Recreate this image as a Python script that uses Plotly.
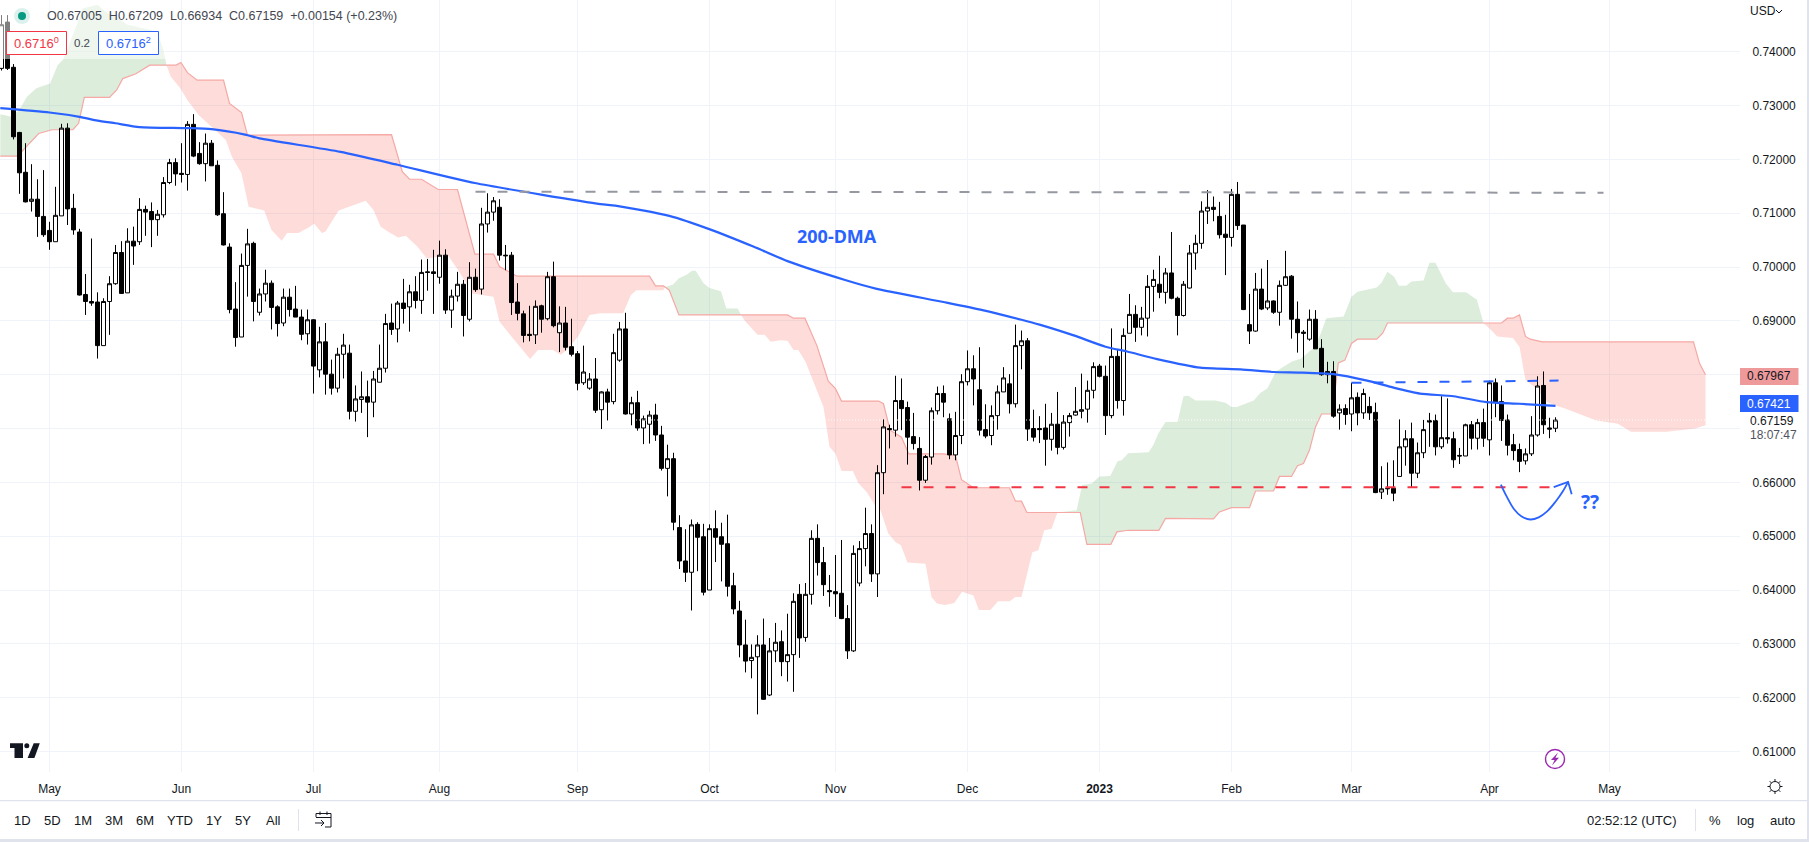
import math
import pandas as pd
import plotly.graph_objects as go

# ---------- data ----------
open_ = [
0.7369,0.7455,0.7371,0.7250,0.7176,0.7122,0.7126,0.7094,0.7068,0.7047,
0.7095,0.7258,0.7109,0.7065,0.6949,0.6936,0.6935,0.6854,0.6936,0.6969,
0.7027,0.6952,0.7048,0.7047,0.7107,0.7103,0.7088,0.7097,0.7157,0.7194,
0.7174,0.7172,0.7265,0.7211,0.7192,0.7230,0.7189,0.7099,0.7037,0.6922,
0.6870,0.7003,0.7044,0.6916,0.6950,0.6970,0.6926,0.6896,0.6944,0.6922,
0.6907,0.6876,0.6902,0.6809,0.6861,0.6801,0.6775,0.6838,0.6840,0.6732,
0.6754,0.6759,0.6749,0.6786,0.6812,0.6896,0.6885,0.6933,0.6926,0.6954,
0.6938,0.6991,0.6991,0.6981,0.7022,0.6920,0.6946,0.6968,0.6903,0.6981,
0.6959,0.7080,0.7102,0.7111,0.7022,0.7022,0.6935,0.6913,0.6875,0.6874,
0.6928,0.6904,0.6982,0.6878,0.6896,0.6852,0.6839,0.6785,0.6775,0.6792,
0.6735,0.6768,0.6750,0.6827,0.6885,0.6727,0.6748,0.6701,0.6708,0.6725,
0.6688,0.6626,0.6644,0.6516,0.6454,0.6433,0.6522,0.6499,0.6400,0.6514,
0.6499,0.6486,0.6408,0.6361,0.6298,0.6269,0.6276,0.6298,0.6205,0.6287,
0.6304,0.6267,0.6280,0.6392,0.6312,0.6392,0.6496,0.6451,0.6399,0.6397,
0.6394,0.6347,0.6287,0.6413,0.6477,0.6505,0.6430,0.6618,0.6700,0.6697,
0.6752,0.6739,0.6685,0.6663,0.6604,0.6647,0.6733,0.6765,0.6718,0.6651,
0.6687,0.6787,0.6811,0.6772,0.6698,0.6687,0.6724,0.6768,0.6783,0.6746,
0.6854,0.6863,0.6700,0.6700,0.6701,0.6680,0.6708,0.6665,0.6711,0.6725,
0.6732,0.6736,0.6771,0.6816,0.6797,0.6724,0.6834,0.6752,0.6877,0.6912,
0.6888,0.6905,0.6964,0.6968,0.6953,0.6989,0.6942,0.6910,0.6961,0.7026,
0.7044,0.7104,0.7111,0.7094,0.7061,0.7055,0.7135,0.7078,0.6893,0.6881,
0.6959,0.6924,0.6937,0.6916,0.6966,0.6983,0.6903,0.6879,0.6866,0.6903,
0.6849,0.6800,0.6806,0.6729,0.6737,0.6727,0.6758,0.6729,0.6741,0.6730,
0.6582,0.6588,0.6589,0.6611,0.6666,0.6681,0.6617,0.6655,0.6715,0.6715,
0.6666,0.6683,0.6681,0.6650,0.6649,0.6707,0.6682,0.6711,0.6679,0.6785,
0.6750,0.6716,0.6670,0.6661,0.6640,0.6653,0.6688,0.6780,0.6701,0.67005,
]
high = [
0.7468,0.7468,0.7377,0.7251,0.7230,0.7191,0.7163,0.7180,0.7084,0.7149,
0.7266,0.7267,0.7136,0.7071,0.6987,0.7053,0.6953,0.6942,0.6983,0.7041,
0.7048,0.7072,0.7075,0.7128,0.7114,0.7120,0.7106,0.7167,0.7201,0.7202,
0.7230,0.7271,0.7284,0.7232,0.7248,0.7236,0.7198,0.7139,0.7044,0.6972,
0.7025,0.7071,0.7047,0.6960,0.6995,0.6975,0.6929,0.6960,0.6960,0.6965,
0.6921,0.6921,0.6903,0.6889,0.6896,0.6828,0.6850,0.6876,0.6856,0.6780,
0.6806,0.6789,0.6807,0.6856,0.6913,0.6932,0.6937,0.6978,0.6967,0.6983,
0.7014,0.7015,0.7032,0.7049,0.7033,0.6958,0.6991,0.6976,0.7009,0.6997,
0.7110,0.7137,0.7130,0.7126,0.7041,0.7028,0.6970,0.6919,0.6928,0.6938,
0.6930,0.6991,0.7010,0.6927,0.6926,0.6904,0.6844,0.6854,0.6803,0.6831,
0.6769,0.6774,0.6876,0.6898,0.6915,0.6759,0.6770,0.6724,0.6733,0.6746,
0.6705,0.6670,0.6655,0.6539,0.6513,0.6531,0.6526,0.6523,0.6522,0.6548,
0.6525,0.6540,0.6432,0.6380,0.6345,0.6299,0.6316,0.6347,0.6311,0.6339,
0.6325,0.6356,0.6394,0.6411,0.6413,0.6511,0.6522,0.6480,0.6428,0.6465,
0.6493,0.6372,0.6483,0.6491,0.6553,0.6522,0.6632,0.6717,0.6707,0.6798,
0.6793,0.6750,0.6729,0.6684,0.6651,0.6739,0.6778,0.6780,0.6728,0.6731,
0.6801,0.6845,0.6836,0.6851,0.6745,0.6743,0.6780,0.6814,0.6801,0.6893,
0.6882,0.6868,0.6735,0.6723,0.6746,0.6729,0.6768,0.6725,0.6729,0.6777,
0.6802,0.6789,0.6823,0.6820,0.6817,0.6886,0.6846,0.6886,0.6950,0.6929,
0.6926,0.6985,0.6995,0.7021,0.6998,0.7065,0.6945,0.6974,0.7041,0.7060,
0.7122,0.7143,0.7131,0.7121,0.7097,0.7145,0.7158,0.7078,0.6950,0.6989,
0.6997,0.7013,0.6938,0.6975,0.7030,0.6985,0.6936,0.6883,0.6921,0.6920,
0.6866,0.6824,0.6825,0.6745,0.6745,0.6785,0.6767,0.6774,0.6759,0.6748,
0.6630,0.6637,0.6641,0.6717,0.6697,0.6711,0.6674,0.6716,0.6729,0.6726,
0.6760,0.6756,0.6694,0.6664,0.6709,0.6714,0.6718,0.6737,0.6789,0.6793,
0.6780,0.6726,0.6690,0.6672,0.6663,0.6723,0.6797,0.6806,0.6720,0.67209,
]
low = [
0.7365,0.7366,0.7237,0.7136,0.7120,0.7103,0.7056,0.7056,0.7032,0.7047,
0.7095,0.7078,0.7060,0.6947,0.6911,0.6928,0.6830,0.6854,0.6874,0.6967,
0.6950,0.6952,0.7004,0.7041,0.7058,0.7037,0.7058,0.7092,0.7154,0.7151,
0.7157,0.7142,0.7204,0.7190,0.7159,0.7188,0.7095,0.7040,0.6914,0.6852,
0.6870,0.6945,0.6899,0.6910,0.6936,0.6884,0.6871,0.6890,0.6908,0.6907,
0.6864,0.6856,0.6765,0.6795,0.6763,0.6763,0.6767,0.6793,0.6717,0.6713,
0.6729,0.6684,0.6721,0.6786,0.6804,0.6874,0.6860,0.6895,0.6880,0.6923,
0.6913,0.6956,0.6913,0.6969,0.6913,0.6887,0.6936,0.6871,0.6899,0.6954,
0.6949,0.7064,0.7086,0.7012,0.6994,0.6911,0.6901,0.6860,0.6862,0.6857,
0.6878,0.6901,0.6888,0.6842,0.6845,0.6834,0.6771,0.6781,0.6772,0.6729,
0.6699,0.6715,0.6745,0.6824,0.6726,0.6706,0.6696,0.6671,0.6672,0.6677,
0.6622,0.6574,0.6511,0.6439,0.6415,0.6362,0.6435,0.6390,0.6400,0.6452,
0.6416,0.6388,0.6355,0.6275,0.6247,0.6236,0.6169,0.6196,0.6203,0.6266,
0.6240,0.6230,0.6211,0.6274,0.6304,0.6373,0.6427,0.6389,0.6369,0.6350,
0.6346,0.6272,0.6285,0.6407,0.6444,0.6415,0.6387,0.6578,0.6663,0.6685,
0.6697,0.6633,0.6661,0.6585,0.6599,0.6633,0.6726,0.6721,0.6643,0.6641,
0.6671,0.6780,0.6743,0.6687,0.6682,0.6669,0.6698,0.6768,0.6728,0.6739,
0.6810,0.6677,0.6676,0.6673,0.6631,0.6659,0.6652,0.6661,0.6685,0.6724,
0.6719,0.6711,0.6756,0.6795,0.6688,0.6719,0.6737,0.6724,0.6877,0.6861,
0.6873,0.6871,0.6917,0.6942,0.6932,0.6940,0.6873,0.6908,0.6960,0.6995,
0.7034,0.7080,0.7085,0.7053,0.6985,0.7038,0.7069,0.6920,0.6857,0.6880,
0.6920,0.6920,0.6913,0.6891,0.6965,0.6867,0.6841,0.6813,0.6863,0.6848,
0.6798,0.6784,0.6720,0.6698,0.6707,0.6695,0.6706,0.6718,0.6716,0.6580,
0.6569,0.6577,0.6565,0.6611,0.6631,0.6591,0.6608,0.6645,0.6666,0.6650,
0.6662,0.6672,0.6627,0.6634,0.6649,0.6661,0.6661,0.6666,0.6650,0.6721,
0.6677,0.6650,0.6641,0.6619,0.6633,0.6649,0.6685,0.6690,0.6682,0.66934,
]
close = [
0.7450,0.7369,0.7242,0.7175,0.7121,0.7126,0.7094,0.7060,0.7047,0.7096,
0.7258,0.7108,0.7069,0.6948,0.6936,0.6933,0.6854,0.6936,0.6969,0.7027,
0.6951,0.7048,0.7039,0.7107,0.7102,0.7088,0.7098,0.7157,0.7194,0.7173,
0.7172,0.7265,0.7206,0.7192,0.7230,0.7188,0.7097,0.7041,0.6921,0.6869,
0.7003,0.7043,0.6936,0.6950,0.6970,0.6925,0.6895,0.6944,0.6921,0.6907,
0.6875,0.6902,0.6816,0.6861,0.6801,0.6775,0.6838,0.6855,0.6732,0.6755,
0.6759,0.6749,0.6792,0.6812,0.6895,0.6884,0.6933,0.6923,0.6954,0.6938,
0.6990,0.6990,0.6988,0.7022,0.6920,0.6946,0.6968,0.6910,0.6981,0.6958,
0.7080,0.7102,0.7123,0.7022,0.7021,0.6934,0.6914,0.6873,0.6873,0.6927,
0.6903,0.6982,0.6891,0.6896,0.6851,0.6838,0.6784,0.6805,0.6792,0.6734,
0.6768,0.6749,0.6841,0.6885,0.6727,0.6748,0.6701,0.6718,0.6725,0.6688,
0.6626,0.6644,0.6526,0.6454,0.6433,0.6521,0.6498,0.6396,0.6514,0.6498,
0.6485,0.6407,0.6365,0.6298,0.6268,0.6275,0.6298,0.6197,0.6287,0.6303,
0.6267,0.6280,0.6379,0.6311,0.6392,0.6496,0.6451,0.6410,0.6397,0.6393,
0.6347,0.6287,0.6468,0.6477,0.6505,0.6430,0.6618,0.6703,0.6698,0.6752,
0.6737,0.6684,0.6672,0.6604,0.6648,0.6733,0.6765,0.6749,0.6651,0.6687,
0.6787,0.6811,0.6792,0.6697,0.6686,0.6724,0.6768,0.6794,0.6746,0.6854,
0.6863,0.6699,0.6684,0.6698,0.6680,0.6708,0.6665,0.6712,0.6724,0.6732,
0.6735,0.6771,0.6815,0.6797,0.6724,0.6834,0.6752,0.6873,0.6912,0.6888,
0.6905,0.6964,0.6977,0.6953,0.6989,0.6942,0.6910,0.6968,0.7026,0.7044,
0.7104,0.7111,0.7107,0.7060,0.7055,0.7135,0.7077,0.6921,0.6881,0.6959,
0.6922,0.6937,0.6916,0.6966,0.6982,0.6903,0.6878,0.6877,0.6903,0.6848,
0.6800,0.6806,0.6723,0.6736,0.6726,0.6757,0.6729,0.6765,0.6729,0.6581,
0.6588,0.6589,0.6580,0.6666,0.6681,0.6617,0.6655,0.6698,0.6712,0.6666,
0.6683,0.6681,0.6642,0.6649,0.6707,0.6682,0.6711,0.6682,0.6785,0.6749,
0.6715,0.6669,0.6659,0.6639,0.6653,0.6688,0.6779,0.6707,0.6699,0.67159,
]

# 200-day average: bar number (0 = 2 May 2022) and value
ma_bars = [-8.2,0,5,8,11,15,23,27,32.6,35,48.5,58,70.9,91.8,94.3,103.3,110.3,117.3,123,132.6,137.7,149,155.5,162,
           165,170.7,176,179.6,184.6,191.8,198.5,204,208.4,214,219.6,224,228.4,234,239.5,245,251]
ma_vals = [.7295,.7287,.7279,.7272,.7267,.7260,.7258,.7256,.7246,.7239,.7214,.7190,.7156,.7117,.7114,.7095,.7069,.7038,.7011,.6976,.6960,.6935,.6920,.6902,
           .6893,.6873,.6852,.6843,.6829,.6813,.6810,.6805,.6804,.6801,.6789,.6776,.6765,.6760,.6749,.6746,.6742]

# Ichimoku spans
span_a_bars = [-8.2,-6.3,-5,-3.8,-2.2,0.1,1.35,2.3,4.85,5.5,8,9.3,11,13,15,17,18.4,19,19.5,
 20.2,21.8,23,24.9,27.5,29.4,30.4,32,33.2,35.8,37,38.7,39.6,41.5,43.4,44.1,45.4,46,48.2,49.8,52.7,54,55.2,56.8,58.1,59.4,61.3,62.9,65.1,66.4,68.3,70.5,74,75,77.2,80.1,81.4,83.9,85.2,86.2,88.1,90,91.8,
 95.6,96.9,97.8,102.3,102.6,103.9,104.9,106.1,107.1,107.7,109,110,111.9,112.8,114.7,115.25,
 116,118,119.2,120.2,121.8,123,124,124.8,126,129,130,131,132,133.9,134.8,136.2,137.6,138.5,139.8,141,141.9,143,146,147,147.9,149.2,150.8,152.1,154,154.9,156.8,158.1,160,161,162,163.8,164.8,165.8,167,168,
 171.2,172.1,173.7,175,176.8,178,178.7,179.8,183.2,184,184.8,186,188,189,189.8,191,194.3,196,197,197.9,200.7,201.8,203,204.4,207,208.6,210.9,211.9,212.8,215.7,217,218,219.3,221.2,222,223,224.1,224.9,226.1,227,229,230,231,232.7,233.9,236.1,237.9,239,
 240,241.3,243.9,245,246,247.4,249.7,251,252.6,257.8,261.4,263.6,269.5,274.3,276]
span_a_vals = [.7284,.7279,.7292,.7316,.7332,.7341,.7375,.7386,.7459,.7480,.7487,.7474,.7465,.7450,.7445,.7440,.7422,.7403,.7375,
 .7354,.7332,.7310,.7282,.7255,.7236,.7205,.7174,.7112,.7105,.7069,.7049,.7063,.7063,.7075,.7081,.7063,.7066,.7105,.7111,.7123,.7106,.7075,.7063,.7055,.7058,.7038,.7016,.7019,.7022,.6991,.6951,.6945,.6899,.6868,.6829,.6846,.6846,.6837,.6846,.6871,.6911,.6914,
 .6914,.6948,.6957,.6957,.6963,.6967,.6979,.6985,.6993,.6993,.6970,.6961,.6955,.6923,.6923,.6911,
 .6899,.6874,.6874,.6861,.6864,.6863,.6846,.6846,.6824,.6740,.6666,.6653,.6621,.6621,.6599,.6582,.6557,.6548,.6505,.6489,.6483,.6451,.6449,.6387,.6375,.6372,.6376,.6397,.6390,.6363,.6363,.6379,.6379,.6387,.6387,.6470,.6474,.6511,.6514,.6544,
 .6548,.6595,.6598,.6611,.6612,.6639,.6641,.6654,.6656,.6670,.6691,.6712,.6712,.6760,.6761,.6752,.6752,.6748,.6740,.6740,.6752,.6766,.6775,.6806,.6824,.6830,.6852,.6877,.6905,.6908,.6945,.6954,.6957,.6962,.6971,.6991,.6982,.6965,.6965,.6973,.6975,.7008,.7008,.6970,.6953,.6953,.6939,.6896,
 .6886,.6871,.6868,.6852,.6790,.6778,.6749,.6743,.6737,.6715,.6709,.6694,.6694,.6700,.6706]
span_b_bars = [-8.2,-5.3,-4.4,-1.8,0.4,3.9,4.85,5.8,10,11.2,12.2,14.4,16.7,19.5,21.1,21.9,23,24.6,29,30,32,33,57,58.8,60,62,64.8,68,70.9,74,75,77.9,100,101,102.3,102.6,103.3,104.9,115.25,123,124,125.9,127.9,129.8,131,132,138.2,139,140.1,142,143.2,149,151,152,154,160,161,162,162.9,168,171.8,172.9,176.9,177.9,179.8,184.9,186,194,195,197,200,201,204,205,207,208,209,210,211,212,213.8,214.8,215.9,217,218,221.2,222.2,223,239,242,243,243.9,245,246,246.8,248.8,274,275,276]
span_b_vals = [.7206,.7206,.7217,.7248,.7255,.7255,.7267,.7315,.7315,.7329,.7350,.7359,.7375,.7375,.7375,.7380,.7361,.7347,.7347,.7304,.7287,.7245,.7246,.7177,.7163,.7163,.7144,.7144,.7024,.7024,.7001,.6983,.6983,.6965,.6965,.6963,.6957,.6911,.6911,.6911,.6905,.6905,.6854,.6788,.6774,.6751,.6751,.6746,.6697,.6684,.6653,.6653,.6650,.6605,.6590,.6590,.6565,.6565,.6544,.6544,.6544,.6485,.6485,.6508,.6511,.6511,.6533,.6532,.6545,.6553,.6553,.6584,.6584,.6611,.6611,.6631,.6635,.6660,.6703,.6727,.6727,.6822,.6827,.6858,.6866,.6866,.6877,.6896,.6896,.6896,.6905,.6905,.6911,.6871,.6866,.6861,.6861,.6821,.6800]
cloud_regions = [(-8.2,19.5,"g"),(19.5,102.6,"r"),(102.6,115.25,"g"),(115.25,168,"r"),(168,239,"g"),(239,276,"r")]

# drawn levels and sketch
top_level_bars, top_level_vals = [71,259], [.7140,.7138]
support_bars, support_vals = [142,250], [.6591,.6591]
resist_bars, resist_vals = [217,251.5], [.6785,.6789]
arc_bars = [241.9,242.9,244.1,245.3,246.8,248.2,249.6,251,252.2,253.1]
arc_vals = [.6596,.6573,.6550,.6537,.6531,.6535,.6546,.6564,.6583,.6601]
head_bars = [250.7,253.1,253.7]
head_vals = [.6591,.6601,.6578]

month_ticks = ["2022-05-02 12:00","2022-06-01 12:00","2022-07-01 12:00","2022-08-01 12:00","2022-09-01 12:00","2022-10-03 12:00",
               "2022-11-01 12:00","2022-12-01 12:00","2023-01-02 12:00","2023-02-01 12:00","2023-03-01 12:00","2023-04-03 12:00","2023-05-01 12:00"]
month_labels = ["May","Jun","Jul","Aug","Sep","Oct","Nov","Dec","<b>2023</b>","Feb","Mar","Apr","May"]
price_ticks = [.61,.62,.63,.64,.65,.66,.67,.68,.69,.70,.71,.72,.73,.74]
price_labels = ["0.61000","0.62000","0.63000","0.64000","0.65000","0.66000"," "," ","0.69000","0.70000","0.71000","0.72000","0.73000","0.74000"]
range_buttons = [("1D",22),("5D",52),("1M",83),("3M",114),("6M",145),("YTD",180),("1Y",214),("5Y",243.4),("All",273)]

# ---------- helpers ----------
W, H, PW, PH = 1809, 842, 1740, 772
FONT = "Liberation Sans"
TXT = "#131722"
BLUE, RED = "#2962ff", "#f23645"
all_days = pd.bdate_range("2022-04-01", "2023-07-14") + pd.Timedelta(hours=12)
first = list(all_days).index(pd.Timestamp("2022-05-02 12:00"))

def at(k):
    n = round(k)
    return (all_days[first + n] + pd.Timedelta(days=k - n)).strftime("%Y-%m-%d %H:%M:%S")

def ats(ks):
    return [at(k) for k in ks]

candle_x = ats(range(-8, -8 + len(close)))
fx = lambda x: x / PW
fy = lambda y: 1 - y / PH
x_range = [at(-8.25), at(281.75)]
y_range = [0.6062, 0.7496]

fig = go.Figure()

# cloud on the base axes, so candles sit on top of it
for a, b, kind in cloud_regions:
    ax_k = [(k, v) for k, v in zip(span_a_bars, span_a_vals) if a <= k <= b]
    bx_k = [(k, v) for k, v in zip(span_b_bars, span_b_vals) if a <= k <= b]
    poly_pts = ax_k + bx_k[::-1]
    fig.add_trace(go.Scatter(x=ats([p[0] for p in poly_pts]), y=[p[1] for p in poly_pts], mode="lines", fill="toself",
                             line=dict(width=0), hoverinfo="skip",
                             fillcolor="rgba(67,160,71,0.19)" if kind == "g" else "rgba(244,67,54,0.19)"))
fig.add_trace(go.Scatter(x=ats(span_b_bars), y=span_b_vals, mode="lines", line=dict(color="#f5a8a4", width=1.2), hoverinfo="skip"))

# candles and everything above them
fig.add_trace(go.Candlestick(x=candle_x, open=open_, high=high, low=low, close=close, xaxis="x2", yaxis="y2",
                             increasing=dict(line=dict(color="#000000", width=1), fillcolor="#ffffff"),
                             decreasing=dict(line=dict(color="#000000", width=1), fillcolor="#000000"),
                             whiskerwidth=0, hoverinfo="skip"))
fig.add_trace(go.Scatter(x=x_range, y=[close[-1], close[-1]], xaxis="x2", yaxis="y2", mode="lines",
                         line=dict(color="rgba(255,255,255,0.9)", width=1, dash="1px,2px"), hoverinfo="skip"))
fig.add_trace(go.Scatter(x=ats(ma_bars), y=ma_vals, xaxis="x2", yaxis="y2", mode="lines",
                         line=dict(color=BLUE, width=2.2, shape="spline", smoothing=0.6), hoverinfo="skip"))
for bars, vals, col in [(top_level_bars, top_level_vals, "#9598a1"), (support_bars, support_vals, RED), (resist_bars, resist_vals, BLUE)]:
    fig.add_trace(go.Scatter(x=ats(bars), y=vals, xaxis="x2", yaxis="y2", mode="lines",
                             line=dict(color=col, width=2, dash="10px,12px"), hoverinfo="skip"))
fig.add_trace(go.Scatter(x=ats(arc_bars), y=arc_vals, xaxis="x2", yaxis="y2", mode="lines",
                         line=dict(color=BLUE, width=1.8, shape="spline", smoothing=1), hoverinfo="skip"))
fig.add_trace(go.Scatter(x=ats(head_bars), y=head_vals, xaxis="x2", yaxis="y2", mode="lines",
                         line=dict(color=BLUE, width=1.8), hoverinfo="skip"))

# ---------- decoration ----------
shapes, ann = [], []

def rect(x0, y0, x1, y1, fill=None, line=None, lw=1, layer="above"):
    shapes.append(dict(type="rect", xref="paper", yref="paper", x0=fx(x0), x1=fx(x1), y0=fy(y0), y1=fy(y1),
                       fillcolor=fill or "rgba(0,0,0,0)", line=dict(color=line or "rgba(0,0,0,0)", width=lw if line else 0), layer=layer))

def circle(cx, cy, r, fill=None, line=None, lw=1):
    shapes.append(dict(type="circle", xref="paper", yref="paper", x0=fx(cx - r), x1=fx(cx + r), y0=fy(cy + r), y1=fy(cy - r),
                       fillcolor=fill or "rgba(0,0,0,0)", line=dict(color=line or "rgba(0,0,0,0)", width=lw if line else 0), layer="above"))

def poly(points, fill=None, line=None, lw=1, close_it=True):
    d = "M " + " L ".join(f"{fx(x):.5f},{fy(y):.5f}" for x, y in points) + (" Z" if close_it else "")
    shapes.append(dict(type="path", xref="paper", yref="paper", path=d,
                       fillcolor=fill or "rgba(0,0,0,0)", line=dict(color=line or "rgba(0,0,0,0)", width=lw if line else 0), layer="above"))

def text(x, y, s, size=12, color=TXT, anchor="left", family=FONT):
    ann.append(dict(xref="paper", yref="paper", x=fx(x), y=fy(y), text=s, showarrow=False, xanchor=anchor, yanchor="middle",
                    font=dict(family=family, size=size, color=color), borderpad=0, borderwidth=0))

# legend veil and header
rect(0, 0, 165, 59, fill="rgba(255,255,255,0.5)")
circle(22, 16, 8, fill="rgba(8,153,129,0.14)")
circle(22, 16, 4, fill="#089981")
text(47, 16.5, "O0.67005  H0.67209  L0.66934  C0.67159  +0.00154 (+0.23%)", size=12.5, color="#434651")
rect(6.5, 31.5, 66.5, 54.5, fill="#ffffff", line=RED)
text(36.5, 43, "0.6716<sup>0</sup>", size=13, color=RED, anchor="center")
text(82, 43, "0.2", size=11.5, color="#434651", anchor="center")
rect(98.5, 31.5, 158.5, 54.5, fill="#ffffff", line=BLUE)
text(128.5, 43, "0.6716<sup>2</sup>", size=13, color=BLUE, anchor="center")

# chart texts
text(837, 236, "<b>200-DMA</b>", size=18, color=BLUE, anchor="center", family="Noto Sans")
text(1590, 502, "<b>??</b>", size=19, color=BLUE, anchor="center", family="Noto Sans")

# right scale extras
text(1750, 11, "USD", size=12)
poly([(1776, 10), (1779, 13), (1782, 10)], line=TXT, lw=1, close_it=False)
rect(1740, 368, 1798.5, 385, fill="#ef9a9a")
text(1769, 376.5, "0.67967", size=12, anchor="center")
rect(1740, 395, 1798.5, 412, fill=BLUE)
text(1769, 403.5, "0.67421", size=12, color="#ffffff", anchor="center")
text(1750, 420.5, "0.67159", size=12)
text(1750, 434.5, "18:07:47", size=12, color="#50535e")

# logo, gear, lightning badge
poly([(10, 743.3), (23, 743.3), (23, 758), (14.5, 758), (14.5, 748), (10, 748)], fill=TXT)
circle(26.8, 745.7, 2.5, fill=TXT)
poly([(33.7, 743.3), (39.8, 743.3), (34.4, 758), (27.6, 758)], fill=TXT)
circle(1775, 786.5, 5, line=TXT, lw=1)
for i in range(8):
    t = i * math.pi / 4
    poly([(1775 + 5 * math.cos(t), 786.5 + 5 * math.sin(t)), (1775 + 7.5 * math.cos(t), 786.5 + 7.5 * math.sin(t))], line=TXT, lw=1, close_it=False)
circle(1555, 759, 9.5, fill="#ffffff", line="#9c27b0", lw=1.4)
poly([(1558, 752.5), (1551, 760), (1554.6, 760), (1552, 765.5), (1559, 757.8), (1555.4, 757.8)], fill="#9c27b0")

# bottom toolbar
rect(0, 800, 1809, 801.2, fill="#e0e3eb")
rect(0, 839, 1809, 842, fill="#e0e3eb")
rect(1807, 0, 1809, 842, fill="#e0e3eb")
for label, x in range_buttons:
    text(x, 820.5, label, size=13, anchor="center")
rect(298, 809, 299, 831, fill="#e0e3eb")
poly([(316, 817), (316, 813.5), (331, 813.5), (331, 827), (325, 827)], line=TXT, lw=1, close_it=False)
poly([(316, 817.5), (331, 817.5)], line=TXT, lw=1, close_it=False)
poly([(320, 811.5), (320, 815)], line=TXT, lw=1, close_it=False)
poly([(327, 811.5), (327, 815)], line=TXT, lw=1, close_it=False)
poly([(315, 823), (324, 823)], line=TXT, lw=1, close_it=False)
poly([(321, 820), (324, 823), (321, 826)], line=TXT, lw=1, close_it=False)
text(1631.5, 820.5, "02:52:12 (UTC)", size=13, anchor="center")
rect(1695, 809, 1696, 831, fill="#e0e3eb")
text(1714.6, 820.5, "%", size=13, anchor="center")
text(1745.6, 820.5, "log", size=13, anchor="center")
text(1782.5, 820.5, "auto", size=13, anchor="center")

rb = [dict(bounds=["sat", "mon"])]
fig.update_layout(
    width=W, height=H, margin=dict(l=0, r=W - PW, t=0, b=H - PH, autoexpand=False),
    paper_bgcolor="#ffffff", plot_bgcolor="#ffffff", showlegend=False, hovermode=False, dragmode=False,
    boxgap=1/3, boxgroupgap=0,
    font=dict(family=FONT, size=12, color=TXT), shapes=shapes, annotations=ann,
    xaxis=dict(type="date", range=x_range, rangebreaks=rb, tickmode="array", tickvals=month_ticks, ticktext=month_labels,
               showgrid=True, gridcolor="#f0f3fa", gridwidth=1, zeroline=False, showline=False,
               ticks="outside", ticklen=6, tickcolor="rgba(0,0,0,0)", tickangle=0, rangeslider=dict(visible=False),
               tickfont=dict(family=FONT, size=12, color=TXT)),
    yaxis=dict(range=y_range, side="right", tickmode="array", tickvals=price_ticks, ticktext=price_labels,
               showgrid=True, gridcolor="#f0f3fa", gridwidth=1, zeroline=False, showline=False,
               ticks="outside", ticklen=9, tickcolor="rgba(0,0,0,0)", tickfont=dict(family=FONT, size=12, color=TXT)),
    # the overlay axis stays "visible" with nothing to show: plotly ignores rangebreaks on a hidden axis
    xaxis2=dict(type="date", range=x_range, rangebreaks=rb, overlaying="x", visible=True, showticklabels=False, ticks="",
                showgrid=False, zeroline=False, showline=False, rangeslider=dict(visible=False)),
    yaxis2=dict(range=y_range, overlaying="y", side="right", visible=False),
)
fig.write_html("out.html", post_script="document.body.style.margin='0';document.body.style.overflow='hidden';", config=dict(displayModeBar=False))
